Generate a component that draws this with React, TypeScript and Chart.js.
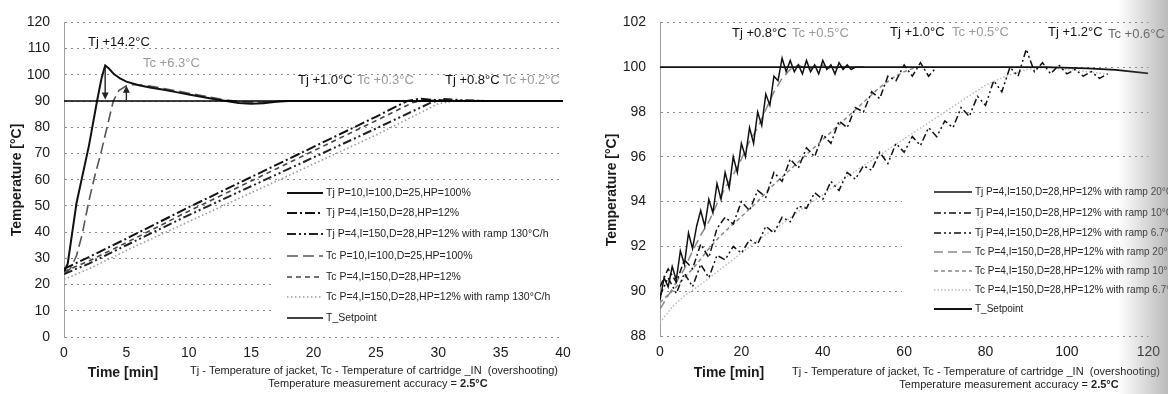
import React, { useEffect, useRef } from "react";
import { Chart, registerables } from "chart.js";
Chart.register(...registerables);

type Pt = [number, number];

const FONT = '"Liberation Sans", Arial, Helvetica, sans-serif';

// ---------- LEFT PANEL DATA (time [min], temperature [°C]) ----------
const LEFT_X_RANGE = [0, 40, 5];
const LEFT_Y_RANGE = [0, 120, 10];

const L_TJ_P10: Pt[] = [[0, 25], [0.3, 28], [1, 51], [2, 73], [2.65, 90], [3, 98.5], [3.3, 103.6], [3.6, 102.4], [4, 100.3], [4.5, 98.6], [5, 97.4], [6, 96], [7, 95.1], [8, 94.3], [9, 93.4], [10, 92.5], [11, 91.6], [12, 90.8], [13, 90], [14, 89.3], [15, 89], [16, 89.2], [17, 89.7], [18, 90], [25, 90], [30, 90], [40, 90]];
const L_TJ_P4: Pt[] = [[0, 26], [2, 30.5], [5, 37.5], [10, 49.5], [15, 61], [20, 72.5], [25, 84], [27.5, 90], [28.5, 90.9], [30, 90.3], [32, 90], [40, 90]];
const L_TJ_RAMP: Pt[] = [[0, 24], [2, 28], [5, 35], [10, 46.5], [15, 57.5], [20, 68.5], [25, 79.5], [29.5, 89.6], [30.5, 90.8], [32, 90.3], [34, 90], [40, 90]];
const L_TC_P10: Pt[] = [[0, 24], [0.5, 26], [1, 31], [1.45, 39], [2, 52], [2.5, 62], [3, 71], [3.5, 81], [3.95, 90], [4.4, 94], [5, 95.8], [5.5, 96.3], [6, 96.2], [7, 95.6], [8, 94.8], [9, 93.9], [10, 93], [11, 92.1], [12, 91.2], [13, 90.4], [14, 89.8], [15, 89.5], [16, 89.5], [17, 89.8], [18, 90.1], [20, 90], [40, 90]];
const L_TC_P4: Pt[] = [[0, 25], [2, 29], [5, 36], [10, 48], [15, 59.5], [20, 71], [25, 82.5], [28, 89.5], [29, 90.3], [31, 90.1], [33, 90], [40, 90]];
const L_TC_RAMP: Pt[] = [[0, 22], [2, 26], [5, 33], [10, 44], [15, 55], [20, 66], [25, 77], [30, 89], [31.5, 90.2], [33, 90.2], [35, 90], [40, 90]];
const L_SETPOINT: Pt[] = [[0, 90], [40, 90]];
const L_ARROWS: [number, number, number][] = [[3.3, 103, 90.6], [5.0, 90.4, 95.8]];

const L_LABELS = [
  "Tj P=10,I=100,D=25,HP=100%",
  "Tj P=4,I=150,D=28,HP=12%",
  "Tj P=4,I=150,D=28,HP=12% with ramp 130°C/h",
  "Tc P=10,I=100,D=25,HP=100%",
  "Tc P=4,I=150,D=28,HP=12%",
  "Tc P=4,I=150,D=28,HP=12% with ramp 130°C/h",
  "T_Setpoint",
];

// ---------- RIGHT PANEL DATA ----------
const RIGHT_X_RANGE = [0, 120, 20];
const RIGHT_Y_RANGE = [88, 102, 2];

const R_TJ20: Pt[] = [[0, 89.6], [1, 90.6], [2, 90.2], [3, 91.1], [4, 90.5], [5, 91.8], [6, 91.2], [7, 92.6], [8, 91.9], [9, 92.9], [10, 93.6], [11, 92.9], [12, 94.1], [13, 93.5], [14, 94.8], [15, 94.1], [16, 95.3], [17, 94.6], [18, 96.0], [19, 95.3], [20, 96.6], [21, 96.0], [22, 97.3], [23, 96.6], [24, 98.0], [25, 97.4], [26, 98.8], [27, 98.3], [28, 99.6], [29, 99.4], [30, 100.4], [31, 99.8], [32, 100.3], [33, 99.8], [34, 100.1], [35, 99.7], [36, 100.3], [37, 99.8], [38, 100.1], [39, 99.7], [40, 100.3], [41, 99.9], [42, 100.1], [43, 99.7], [44, 100.2], [45, 99.9], [46, 100.1], [47, 99.9], [48, 100.0], [50, 100.0]];
const R_TJ10: Pt[] = [[0, 90.2], [2, 91.0], [4, 90.4], [6, 91.4], [8, 91.0], [10, 92.1], [12, 91.5], [14, 92.8], [16, 93.3], [18, 93.0], [20, 94.0], [22, 93.6], [24, 94.5], [26, 94.2], [28, 95.3], [30, 94.9], [32, 95.9], [34, 95.5], [36, 96.4], [38, 96.0], [40, 97.0], [42, 96.6], [44, 97.6], [46, 97.3], [48, 98.2], [50, 98.0], [52, 98.9], [54, 98.6], [56, 99.6], [58, 99.4], [60, 100.1], [62, 99.6], [64, 100.2], [66, 99.6], [68, 100.0]];
const R_TJ67: Pt[] = [[0, 89.8], [2, 90.6], [4, 89.9], [6, 90.8], [8, 90.2], [10, 91.2], [12, 90.6], [14, 91.6], [16, 91.4], [18, 92.0], [20, 91.7], [22, 92.3], [24, 92.1], [26, 92.9], [28, 92.6], [30, 93.3], [32, 93.1], [34, 93.8], [36, 93.7], [38, 94.4], [40, 94.1], [42, 94.9], [44, 94.5], [46, 95.3], [48, 95.0], [50, 95.6], [52, 95.4], [54, 96.2], [56, 95.7], [58, 96.6], [60, 96.2], [62, 96.9], [64, 96.5], [66, 97.3], [68, 96.9], [70, 97.6], [72, 97.3], [74, 98.2], [76, 97.8], [78, 98.7], [80, 98.3], [82, 99.4], [84, 98.9], [86, 100.0], [88, 99.6], [90, 100.8], [92, 99.8], [94, 100.2], [96, 99.7], [98, 100.1], [100, 99.7], [102, 99.9], [104, 99.6], [106, 99.8], [108, 99.5], [110, 99.7]];
const R_TC20: Pt[] = [[0, 89.2], [2, 89.8], [4, 90.4], [6, 91.0], [8, 91.8], [10, 92.5], [12, 93.1], [14, 93.9], [16, 94.6], [18, 95.2], [20, 95.9], [22, 96.7], [24, 97.3], [26, 98.1], [28, 98.9], [30, 99.5], [32, 99.9], [34, 100.1], [36, 99.9], [38, 100.0], [40, 100.1], [42, 99.9], [44, 100.0], [46, 100.0]];
const R_TC10: Pt[] = [[0, 89.5], [3, 90.0], [6, 90.6], [9, 91.2], [12, 91.9], [15, 92.5], [18, 93.0], [21, 93.5], [24, 94.0], [27, 94.6], [30, 95.1], [33, 95.6], [36, 96.1], [39, 96.6], [42, 97.1], [45, 97.6], [48, 98.1], [51, 98.6], [54, 99.1], [57, 99.5], [60, 99.8], [63, 100.0], [66, 100.0]];
const R_TC67: Pt[] = [[0, 88.6], [3, 89.3], [6, 89.8], [10, 90.3], [15, 91.0], [20, 91.7], [25, 92.4], [30, 93.0], [35, 93.7], [40, 94.3], [45, 95.0], [50, 95.6], [55, 96.2], [60, 96.8], [65, 97.4], [70, 98.0], [75, 98.6], [80, 99.2], [85, 99.6], [90, 99.9], [95, 100.0], [100, 99.9], [105, 99.8], [110, 99.7]];
const R_SETPOINT: Pt[] = [[0, 100], [95, 100], [105, 99.95], [112, 99.88], [120, 99.72]];

const R_LABELS = [
  "Tj P=4,I=150,D=28,HP=12% with ramp 20°C/h",
  "Tj P=4,I=150,D=28,HP=12% with ramp 10°C/h",
  "Tj P=4,I=150,D=28,HP=12% with ramp 6.7°C/h",
  "Tc P=4,I=150,D=28,HP=12% with ramp 20°C/h",
  "Tc P=4,I=150,D=28,HP=12% with ramp 10°C/h",
  "Tc P=4,I=150,D=28,HP=12% with ramp 6.7°C/h",
  "T_Setpoint",
];

type Style = { color: string; width: number; dash: number[] };

const L_STYLES: Style[] = [
  { color: "#111", width: 2, dash: [] },
  { color: "#111", width: 2, dash: [10, 3, 2, 3] },
  { color: "#222", width: 2, dash: [9, 3, 2, 3, 2, 3] },
  { color: "#555", width: 1.6, dash: [11, 5] },
  { color: "#444", width: 1.6, dash: [5, 4] },
  { color: "#9a9a9a", width: 1.6, dash: [1.5, 2.5] },
  { color: "#000", width: 1.6, dash: [] },
];
const R_STYLES: Style[] = [
  { color: "#111", width: 1.5, dash: [] },
  { color: "#111", width: 1.5, dash: [7, 3, 2, 3] },
  { color: "#111", width: 1.5, dash: [7, 3, 2, 3, 2, 3] },
  { color: "#888", width: 1.5, dash: [9, 5] },
  { color: "#888", width: 1.5, dash: [4, 3] },
  { color: "#bbb", width: 1.5, dash: [1.5, 2] },
  { color: "#111", width: 1.8, dash: [] },
];

function ds(label: string, pts: Pt[], s: Style, order: number) {
  return {
    label,
    data: pts.map(([x, y]) => ({ x, y })),
    borderColor: s.color,
    borderWidth: s.width,
    borderDash: s.dash,
    pointRadius: 0,
    tension: 0,
    fill: false,
    order,
  };
}

type Ann = { t: string; x: number; y: number; c: string };

function text(ctx: CanvasRenderingContext2D, t: string, x: number, y: number, font: string, color: string, align: CanvasTextAlign = "left", maxW?: number) {
  ctx.save();
  ctx.font = font;
  ctx.fillStyle = color;
  ctx.textAlign = align;
  ctx.textBaseline = "middle";
  if (maxW) ctx.fillText(t, x, y, maxW);
  else ctx.fillText(t, x, y);
  ctx.restore();
}

type Decor = {
  ox: number;
  yTitle: [number, number];
  timeLbl: [number, number];
  cap1: [number, number, number];
  cap2: [number, number];
  anns: Ann[];
  legendBox: [number, number, number, number];
  legendRows: number[];
  legendX: [number, number, number];
  legendFont: string;
  labels: string[];
  styles: Style[];
  arrows?: [number, number, number][];
  shade?: boolean;
};

function makePlugin(d: Decor) {
  return {
    id: "decor",
    beforeDatasetsDraw(chart: any) {
      const ctx = chart.ctx as CanvasRenderingContext2D;
      const [x, y, w, h] = d.legendBox;
      ctx.save();
      ctx.fillStyle = "#fff";
      ctx.fillRect(x - d.ox, y, w, h);
      ctx.restore();
    },
    afterDraw(chart: any) {
      const ctx = chart.ctx as CanvasRenderingContext2D;
      const ox = d.ox;
      // y title
      ctx.save();
      ctx.translate(d.yTitle[0] - ox, d.yTitle[1]);
      ctx.rotate(-Math.PI / 2);
      text(ctx, "Temperature [°C]", 0, 0, `bold 14px ${FONT}`, "#1a1a1a", "center");
      ctx.restore();
      // x title & captions
      text(ctx, "Time [min]", d.timeLbl[0] - ox, d.timeLbl[1], `bold 14px ${FONT}`, "#1a1a1a", "center");
      text(ctx, "Tj - Temperature of jacket, Tc - Temperature of cartridge _IN  (overshooting)", d.cap1[0] - ox, d.cap1[1], `11px ${FONT}`, "#222", "left", d.cap1[2]);
      ctx.save();
      ctx.font = `11px ${FONT}`;
      const p1 = "Temperature measurement accuracy = ";
      const w1 = ctx.measureText(p1).width;
      ctx.font = `bold 11px ${FONT}`;
      const w2 = ctx.measureText("2.5°C").width;
      ctx.restore();
      const sx = d.cap2[0] - ox - (w1 + w2) / 2;
      text(ctx, p1, sx, d.cap2[1], `11px ${FONT}`, "#222");
      text(ctx, "2.5°C", sx + w1, d.cap2[1], `bold 11px ${FONT}`, "#222");
      // annotations
      for (const a of d.anns) text(ctx, a.t, a.x - ox, a.y, `13px ${FONT}`, a.c);
      // arrows
      if (d.arrows) {
        const xs = chart.scales.x, ys = chart.scales.y;
        for (const [t, y1, y2] of d.arrows) {
          const px = xs.getPixelForValue(t);
          const py1 = ys.getPixelForValue(y1);
          const py2 = ys.getPixelForValue(y2);
          const dir = py2 > py1 ? 1 : -1;
          ctx.save();
          ctx.strokeStyle = "#222";
          ctx.fillStyle = "#222";
          ctx.lineWidth = 1.4;
          ctx.beginPath();
          ctx.moveTo(px, py1);
          ctx.lineTo(px, py2 - dir * 4);
          ctx.stroke();
          ctx.beginPath();
          ctx.moveTo(px, py2);
          ctx.lineTo(px - 3.5, py2 - dir * 7);
          ctx.lineTo(px + 3.5, py2 - dir * 7);
          ctx.closePath();
          ctx.fill();
          ctx.restore();
        }
      }
      // legend
      d.labels.forEach((lab, i) => {
        const s = d.styles[i];
        const y = d.legendRows[i];
        ctx.save();
        ctx.strokeStyle = s.color;
        ctx.lineWidth = s.width;
        ctx.setLineDash(s.dash);
        ctx.beginPath();
        ctx.moveTo(d.legendX[0] - ox, y);
        ctx.lineTo(d.legendX[1] - ox, y);
        ctx.stroke();
        ctx.restore();
        text(ctx, lab, d.legendX[2] - ox, y, d.legendFont, "#222");
      });
      // scan shading at right edge
      if (d.shade) {
        const W = chart.width;
        const g = ctx.createLinearGradient(W - 50, 0, W, 0);
        g.addColorStop(0, "rgba(130,130,130,0)");
        g.addColorStop(1, "rgba(130,130,130,0.55)");
        ctx.save();
        ctx.fillStyle = g;
        ctx.fillRect(W - 50, 0, 50, chart.height);
        ctx.restore();
      }
    },
  };
}

function makeConfig(datasets: any[], xr: number[], yr: number[], yW: number, xH: number, padding: any, plugin: any) {
  const tickFont = { family: FONT, size: 14 };
  return {
    type: "line" as const,
    data: { datasets },
    options: {
      animation: false,
      responsive: false,
      maintainAspectRatio: false,
      devicePixelRatio: 1,
      layout: { padding },
      plugins: { legend: { display: false }, tooltip: { enabled: false } },
      scales: {
        x: {
          type: "linear",
          min: xr[0],
          max: xr[1],
          ticks: { stepSize: xr[2], font: tickFont, color: "#1a1a1a", padding: 8, maxRotation: 0, autoSkip: false },
          grid: { display: false, drawTicks: false },
          border: { display: false },
          afterFit: (s: any) => { s.height = xH; },
        },
        y: {
          type: "linear",
          min: yr[0],
          max: yr[1],
          ticks: { stepSize: yr[2], font: tickFont, color: "#1a1a1a", padding: 14 },
          grid: { color: "#8a8a8a", lineWidth: 1, drawTicks: false },
          border: { display: true, color: "#a0a0a0", width: 1, dash: [2, 4] },
          afterFit: (s: any) => { s.width = yW; },
        },
      },
    },
    plugins: [plugin],
  };
}

export default function App() {
  const leftRef = useRef<HTMLCanvasElement>(null);
  const rightRef = useRef<HTMLCanvasElement>(null);

  useEffect(() => {
    const leftSeries = [L_TJ_P10, L_TJ_P4, L_TJ_RAMP, L_TC_P10, L_TC_P4, L_TC_RAMP, L_SETPOINT];
    const leftDs = leftSeries.map((p, i) => ds(L_LABELS[i], p, L_STYLES[i], i === 6 ? 0 : i + 1));
    const leftPlugin = makePlugin({
      ox: 0,
      yTitle: [17, 180],
      timeLbl: [123, 373],
      cap1: [190, 371, 374],
      cap2: [378, 384],
      anns: [
        { t: "Tj +14.2°C", x: 88, y: 42, c: "#111" },
        { t: "Tc +6.3°C", x: 143, y: 63, c: "#9a9a9a" },
        { t: "Tj +1.0°C", x: 298, y: 80, c: "#111" },
        { t: "Tc +0.3°C", x: 357, y: 80, c: "#9a9a9a" },
        { t: "Tj +0.8°C", x: 445, y: 80, c: "#111" },
        { t: "Tc +0.2°C", x: 503, y: 80, c: "#9a9a9a" },
      ],
      legendBox: [274, 181, 300, 147],
      legendRows: [193, 213, 234, 256, 277, 297, 318],
      legendX: [287, 323, 326],
      legendFont: `10.5px ${FONT}`,
      labels: L_LABELS,
      styles: L_STYLES,
      arrows: L_ARROWS,
    });
    const leftChart = new Chart(leftRef.current!, makeConfig(leftDs, LEFT_X_RANGE, LEFT_Y_RANGE, 64, 57, { left: 0, right: 32, top: 20, bottom: 0 }, leftPlugin) as any);

    const rightSeries = [R_TJ20, R_TJ10, R_TJ67, R_TC20, R_TC10, R_TC67, R_SETPOINT];
    const rightDs = rightSeries.map((p, i) => ds(R_LABELS[i], p, R_STYLES[i], i === 6 ? 0 : i + 1));
    const rightPlugin = makePlugin({
      ox: 595,
      yTitle: [612, 190],
      timeLbl: [729, 373],
      cap1: [792, 372, 374],
      cap2: [1009, 385],
      anns: [
        { t: "Tj +0.8°C", x: 732, y: 33, c: "#111" },
        { t: "Tc +0.5°C", x: 792, y: 33, c: "#9a9a9a" },
        { t: "Tj +1.0°C", x: 890, y: 32, c: "#111" },
        { t: "Tc +0.5°C", x: 952, y: 32, c: "#9a9a9a" },
        { t: "Tj +1.2°C", x: 1048, y: 32, c: "#111" },
        { t: "Tc +0.6°C", x: 1108, y: 34, c: "#666" },
      ],
      legendBox: [902, 181, 266, 137],
      legendRows: [192, 213, 233, 252, 271, 290, 309],
      legendX: [934, 972, 975],
      legendFont: `10px ${FONT}`,
      labels: R_LABELS,
      styles: R_STYLES,
      shade: true,
    });
    const rightChart = new Chart(rightRef.current!, makeConfig(rightDs, RIGHT_X_RANGE, RIGHT_Y_RANGE, 65, 58, { left: 0, right: 13, top: 18, bottom: 0 }, rightPlugin) as any);

    return () => {
      leftChart.destroy();
      rightChart.destroy();
    };
  }, []);

  return (
    <div style={{ position: "fixed", left: 0, top: 0, width: 1168, height: 394, background: "#fff", overflow: "hidden" }}>
      <canvas ref={leftRef} width={595} height={394} style={{ position: "absolute", left: 0, top: 0, width: 595, height: 394 }} />
      <canvas ref={rightRef} width={573} height={394} style={{ position: "absolute", left: 595, top: 0, width: 573, height: 394 }} />
    </div>
  );
}
